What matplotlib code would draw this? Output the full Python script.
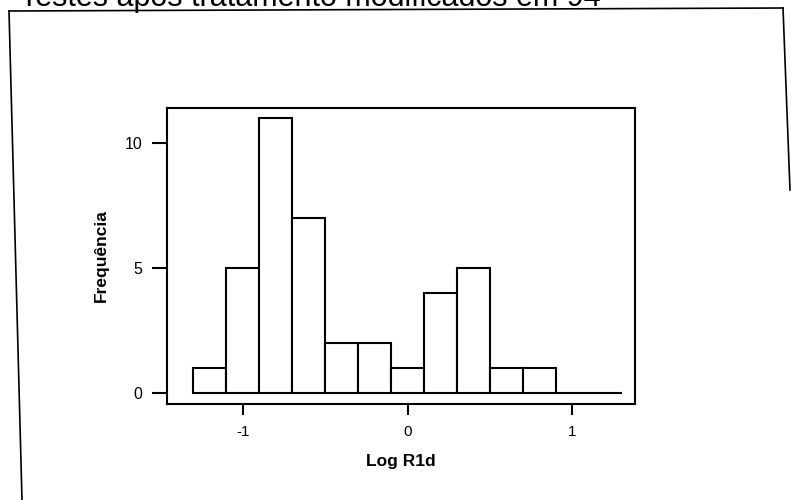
"""Histograma de Log R1d (recriação de figura digitalizada)."""
import numpy as np
import matplotlib
matplotlib.use("Agg")
import matplotlib.pyplot as plt
from matplotlib.lines import Line2D

plt.rcParams["font.family"] = ["Liberation Sans", "DejaVu Sans"]
plt.rcParams["axes.unicode_minus"] = False

# dados
BIN_EDGES = [-1.3, -1.1, -0.9, -0.7, -0.5, -0.3, -0.1, 0.1, 0.3, 0.5, 0.7, 0.9, 1.1, 1.3]
COUNTS = [1, 5, 11, 7, 2, 2, 1, 4, 5, 1, 1, 0, 0]
X_TICKS = [-1, 0, 1]
Y_TICKS = [0, 5, 10]
TITLE = "Testes após tratamento modificados em 94"
XLABEL = "Log R1d"
YLABEL = "Frequência"

W, H = 791, 500
fig = plt.figure(figsize=(W / 100, H / 100), dpi=100)

# eixo: px -> fração da figura
left, right, top, bottom = 167, 635, 108, 404
ax = fig.add_axes([left / W, 1 - bottom / H, (right - left) / W, (bottom - top) / H])

edges = np.array(BIN_EDGES)
ax.bar(edges[:-1], COUNTS, width=np.diff(edges), align="edge",
       facecolor="white", edgecolor="black", linewidth=1.5)

ax.set_xlim(-1.46, 1.38)
ax.set_ylim(-0.44, 11.4)
ax.set_xticks(X_TICKS)
ax.set_yticks(Y_TICKS)
ax.tick_params(axis="x", direction="out", length=8, width=1.5, labelsize=11, pad=7)
ax.tick_params(axis="y", direction="out", length=11, width=1.5, labelsize=11.5, pad=7)
for s in ax.spines.values():
    s.set_linewidth(1.5)

ax.set_xlabel(XLABEL, fontsize=12.5, fontweight="bold", labelpad=11)
ax.set_ylabel(YLABEL, fontsize=12.5, fontweight="bold", labelpad=11)

# moldura externa (parcialmente cortada no original)
def px(x, y):
    return x / W, 1 - y / H

for (x0, y0), (x1, y1) in [((9, 11), (22, 500)), ((9, 11), (783, 8)),
                           ((783, 8), (790, 190))]:
    (fx0, fy0), (fx1, fy1) = px(x0, y0), px(x1, y1)
    fig.add_artist(Line2D([fx0, fx1], [fy0, fy1], transform=fig.transFigure,
                          color="black", linewidth=1.2))

# título cortado no topo, como na digitalização
fig.text(20 / W, 1 - 6 / H, TITLE, fontsize=22, ha="left", va="baseline")

fig.savefig("out.png", dpi=100)
